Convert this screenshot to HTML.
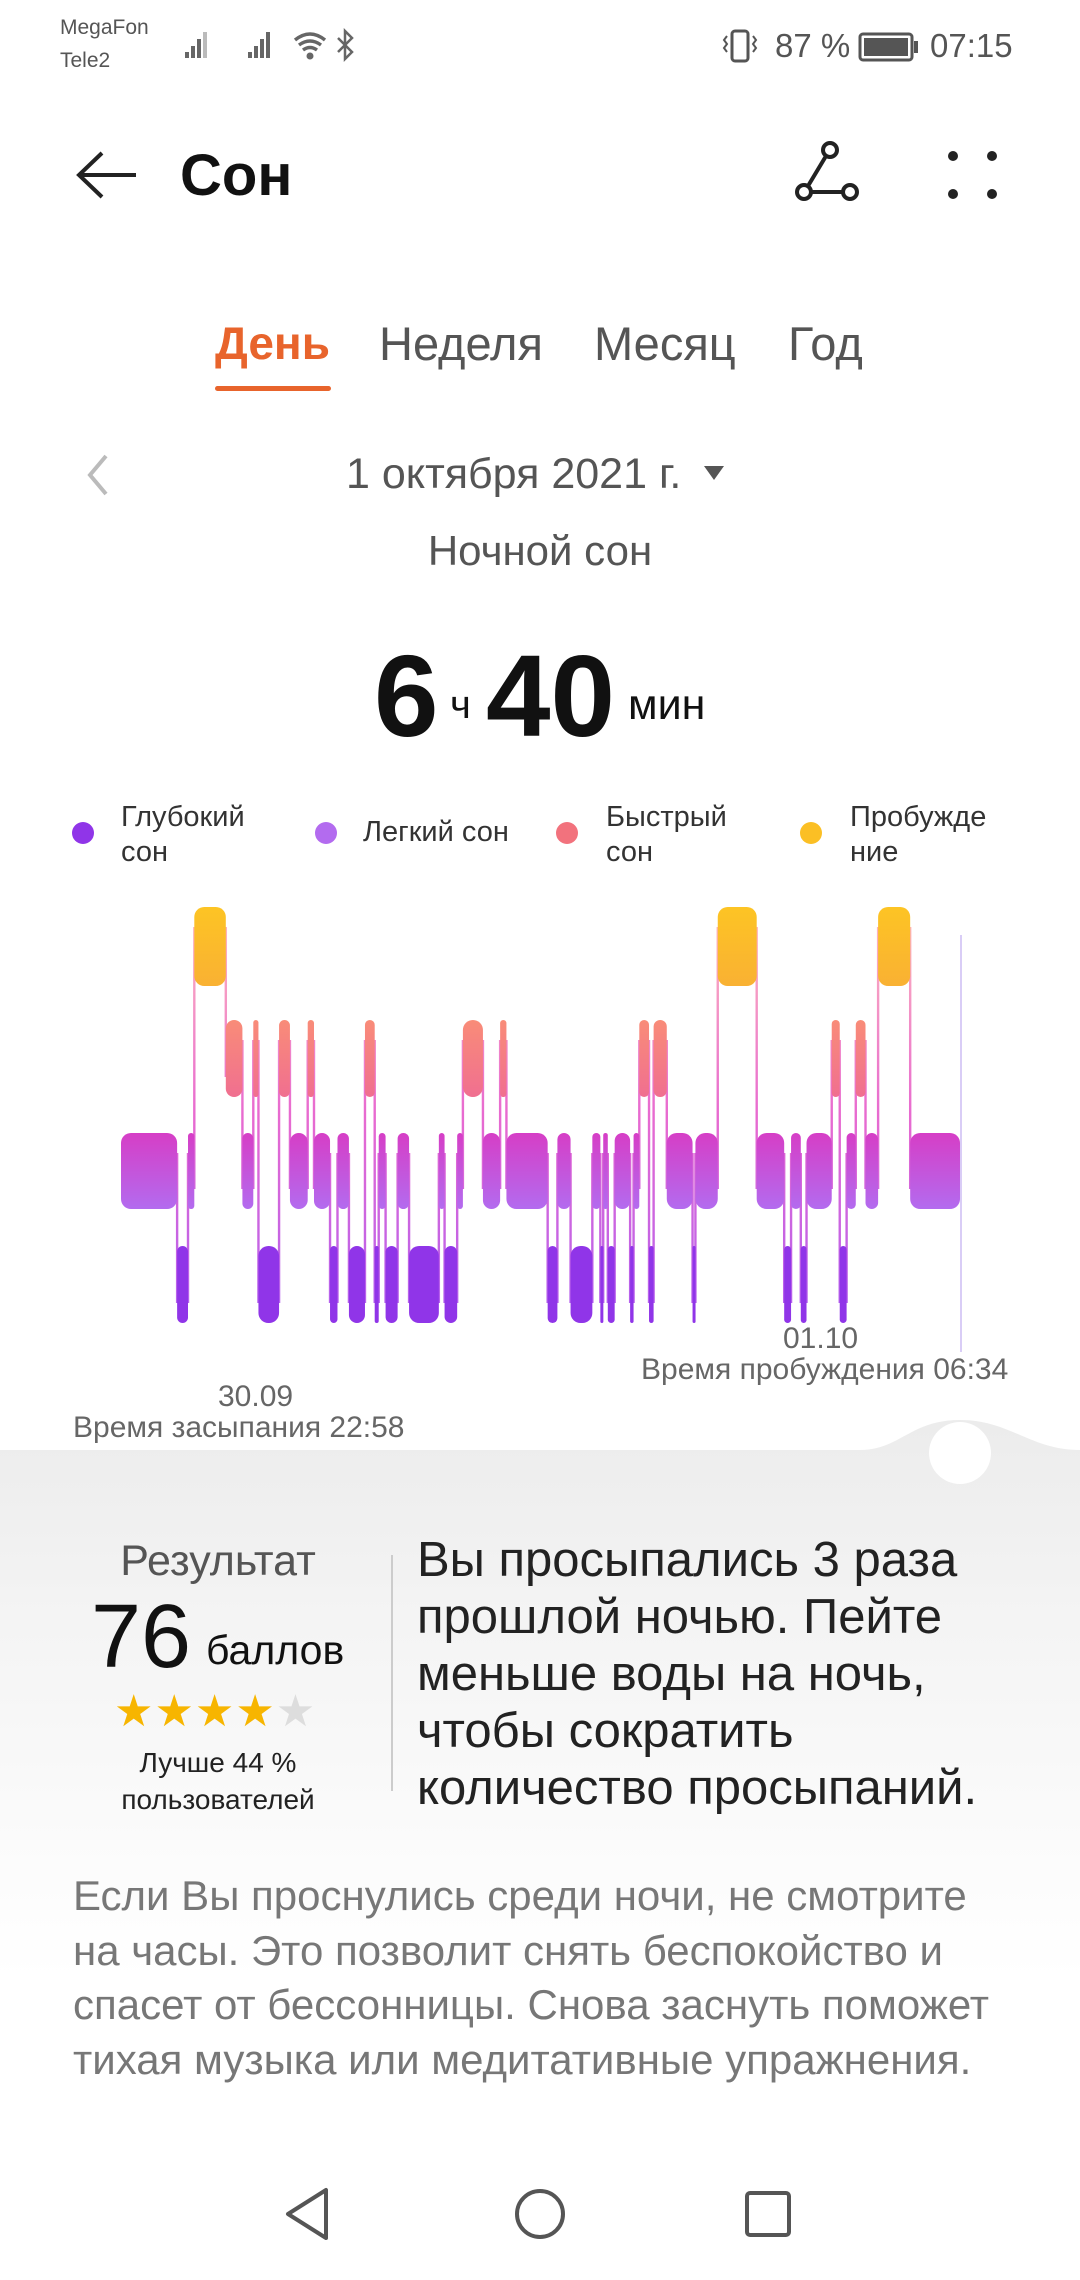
<!DOCTYPE html>
<html><head><meta charset="utf-8">
<style>
*{margin:0;padding:0;box-sizing:border-box}
body{width:1080px;height:2280px;position:relative;overflow:hidden;background:#fff;font-family:"Liberation Sans","DejaVu Sans",sans-serif;color:#222}
.t{position:absolute;white-space:nowrap}
</style></head><body>
<div style="position:absolute;left:0;top:1420px;width:1080px;height:860px;background:linear-gradient(#ececec 0px,#f4f4f4 200px,#fbfbfb 420px,#fff 560px)"></div>
<svg style="position:absolute;left:0;top:1380px" width="1080" height="120">
<path d="M0 70 L860 70 C900 70 910 40 960 40 C1010 40 1030 70 1080 70 L1080 0 L0 0 Z" fill="#fff"/>
<circle cx="960" cy="73" r="31" fill="#fff"/>
</svg>

<!-- status bar -->
<div class="t" style="left:60px;top:16px;font-size:21px;color:#555">MegaFon</div>
<div class="t" style="left:60px;top:49px;font-size:21px;color:#555">Tele2</div>
<svg style="position:absolute;left:180px;top:28px" width="200" height="36">
<g fill="#666"><rect x="5" y="24" width="4" height="6"/><rect x="11" y="18" width="4" height="12"/><rect x="17" y="11" width="4" height="19"/><rect x="23" y="4" width="4" height="26" fill="#bbb"/>
<rect x="68" y="24" width="4" height="6"/><rect x="74" y="18" width="4" height="12"/><rect x="80" y="11" width="4" height="19"/><rect x="86" y="4" width="4" height="26"/></g>
<path d="M115 12 Q130 0 145 12 M119 17 Q130 9 141 17 M123 22 Q130 17 137 22" stroke="#666" stroke-width="3.5" fill="none"/><circle cx="130" cy="28" r="3.5" fill="#666"/>
<path d="M158 10 L172 24 L165 31 L165 3 L172 10 L158 24" stroke="#666" stroke-width="2.5" fill="none"/>
</svg>
<svg style="position:absolute;left:722px;top:28px" width="40" height="36"><rect x="10" y="3" width="16" height="30" rx="3" stroke="#555" stroke-width="3" fill="none"/><path d="M5 8 l-3 4 l3 4 l-3 4 l3 4 M31 8 l3 4 l-3 4 l3 4 l-3 4" stroke="#555" stroke-width="2" fill="none"/></svg>
<div class="t" style="left:775px;top:27px;font-size:33px;color:#555">87 %</div>
<svg style="position:absolute;left:858px;top:32px" width="62" height="30"><rect x="2" y="2" width="52" height="26" rx="3" stroke="#555" stroke-width="3" fill="none"/><rect x="6" y="6" width="44" height="18" fill="#555"/><rect x="56" y="9" width="4" height="12" fill="#555"/></svg>
<div class="t" style="left:930px;top:27px;font-size:33px;color:#555">07:15</div>

<!-- header -->
<svg style="position:absolute;left:74px;top:150px" width="70" height="50"><path d="M62 25 L6 25 M28 3 L5 25 L28 47" stroke="#222" stroke-width="4" fill="none"/></svg>
<div class="t" style="left:180px;top:142px;font-size:58px;font-weight:bold;color:#111">Сон</div>
<svg style="position:absolute;left:792px;top:140px" width="72" height="66"><circle cx="38" cy="10" r="7" stroke="#222" stroke-width="4" fill="none"/><circle cx="12" cy="52" r="7" stroke="#222" stroke-width="4" fill="none"/><circle cx="58" cy="52" r="7" stroke="#222" stroke-width="4" fill="none"/><path d="M34 16 L16 46 M19 52 L51 52" stroke="#222" stroke-width="4"/></svg>
<svg style="position:absolute;left:945px;top:148px" width="56" height="56"><g fill="#222"><circle cx="8" cy="8" r="5"/><circle cx="47" cy="8" r="5"/><circle cx="8" cy="46" r="5"/><circle cx="47" cy="46" r="5"/></g></svg>

<!-- tabs -->
<div class="t" style="left:215px;top:316px;font-size:46px;color:#e8642c;font-weight:bold">День</div>
<div style="position:absolute;left:215px;top:386px;width:116px;height:5px;background:#e8642c;border-radius:3px"></div>
<div class="t" style="left:379px;top:316px;font-size:47px;color:#555">Неделя</div>
<div class="t" style="left:594px;top:316px;font-size:47px;color:#555">Месяц</div>
<div class="t" style="left:788px;top:316px;font-size:47px;color:#555">Год</div>

<svg style="position:absolute;left:84px;top:452px" width="30" height="46"><path d="M22 4 L6 23 L22 42" stroke="#bbb" stroke-width="4" fill="none"/></svg>
<div class="t" style="left:346px;top:450px;font-size:43px;color:#555">1 октября 2021 г.</div>
<svg style="position:absolute;left:702px;top:464px" width="24" height="18"><path d="M2 2 L22 2 L12 16Z" fill="#555"/></svg>
<div class="t" style="left:0;width:1080px;text-align:center;top:527px;font-size:42px;color:#555">Ночной сон</div>

<div class="t" style="left:374px;top:626px;font-size:116px;font-weight:bold;color:#111;line-height:140px">6</div>
<div class="t" style="left:450px;top:683px;font-size:40px;color:#111">ч</div>
<div class="t" style="left:486px;top:626px;font-size:116px;font-weight:bold;color:#111;line-height:140px">40</div>
<div class="t" style="left:628px;top:681px;font-size:43px;color:#111">мин</div>

<!-- legend -->
<svg style="position:absolute;left:0;top:810px" width="1080" height="50"><circle cx="83" cy="23" r="11" fill="#9035e8"/><circle cx="326" cy="23" r="11" fill="#b36bef"/><circle cx="567" cy="23" r="11" fill="#f2727d"/><circle cx="811" cy="23" r="11" fill="#fbbf24"/></svg>
<div class="t" style="left:121px;top:800px;font-size:29px;color:#333;line-height:35px">Глубокий<br>сон</div>
<div class="t" style="left:363px;top:816px;font-size:29px;color:#333">Легкий сон</div>
<div class="t" style="left:606px;top:800px;font-size:29px;color:#333;line-height:35px">Быстрый<br>сон</div>
<div class="t" style="left:850px;top:800px;font-size:29px;color:#333;line-height:35px">Пробужде<br>ние</div>

<svg id="ch" style="position:absolute;left:0;top:0" width="1080" height="1400">
<defs>
<linearGradient id="ga" x1="0" y1="0" x2="0" y2="1"><stop offset="0" stop-color="#fdc424"/><stop offset="1" stop-color="#f9b133"/></linearGradient>
<linearGradient id="gr" x1="0" y1="0" x2="0" y2="1"><stop offset="0" stop-color="#f98c78"/><stop offset="1" stop-color="#f06f90"/></linearGradient>
<linearGradient id="gl" x1="0" y1="0" x2="0" y2="1"><stop offset="0" stop-color="#d63ec6"/><stop offset="1" stop-color="#b36bef"/></linearGradient>
<linearGradient id="gc" gradientUnits="userSpaceOnUse" x1="0" y1="907" x2="0" y2="1323"><stop offset="0" stop-color="#fbb"/><stop offset="0.5" stop-color="#e86ad0"/><stop offset="1" stop-color="#b060f0"/></linearGradient>
</defs>
<line x1="961" y1="935" x2="961" y2="1352" stroke="#d9cdf6" stroke-width="2"/>
</svg>

<div class="t" style="left:783px;top:1322px;font-size:30px;color:#666">01.10</div>
<div class="t" style="left:641px;top:1353px;font-size:30px;color:#666">Время пробуждения 06:34</div>
<div class="t" style="left:218px;top:1380px;font-size:30px;color:#666">30.09</div>
<div class="t" style="left:73px;top:1411px;font-size:30px;color:#666">Время засыпания 22:58</div>

<!-- result -->
<div class="t" style="left:18px;width:400px;text-align:center;top:1537px;font-size:43px;color:#555">Результат</div>
<div class="t" style="left:91px;top:1586px;font-size:90px;color:#111">76</div>
<div class="t" style="left:206px;top:1627px;font-size:41px;color:#111">баллов</div>
<div class="t" style="left:114px;top:1686px;font-size:44px;letter-spacing:1px;color:#f7b500">★★★★<span style="color:#ddd">★</span></div>
<div class="t" style="left:18px;width:400px;text-align:center;top:1744px;font-size:28px;color:#222;line-height:37px">Лучше 44 %<br>пользователей</div>
<div style="position:absolute;left:391px;top:1555px;width:2px;height:236px;background:#ccc"></div>
<div class="t" style="left:417px;top:1532px;font-size:49px;color:#222;line-height:57px">Вы просыпались 3 раза<br>прошлой ночью. Пейте<br>меньше воды на ночь,<br>чтобы сократить<br>количество просыпаний.</div>
<div class="t" style="left:73px;top:1869px;font-size:42px;color:#777;line-height:54.5px">Если Вы проснулись среди ночи, не смотрите<br>на часы. Это позволит снять беспокойство и<br>спасет от бессонницы. Снова заснуть поможет<br>тихая музыка или медитативные упражнения.</div>

<!-- nav -->
<svg style="position:absolute;left:0;top:2180px" width="1080" height="70">
<path d="M326 10 L326 58 L288 34 Z" stroke="#555" stroke-width="4" fill="none" stroke-linejoin="round"/>
<circle cx="540" cy="34" r="23" stroke="#555" stroke-width="4" fill="none"/>
<rect x="747" y="13" width="42" height="42" rx="3" stroke="#555" stroke-width="4" fill="none"/>
</svg>

<script>
(function(){
var L={A:[907,986,'url(#ga)'],R:[1020,1097,'url(#gr)'],L:[1133,1209,'url(#gl)'],D:[1246,1323,'#9035e8']};
var s=[['L',35,133],['D',133,152],['L',152,163],['A',163,218],['R',218,247],['L',247,266],['R',266,275],['D',275,311],['R',311,330],['L',330,361],['R',361,372],['L',372,400],['D',400,413],['L',413,433],['D',433,461],['R',461,478],['D',478,485],['L',485,497],['D',497,518],['L',518,538],['D',538,590],['L',590,600],['D',600,622],['L',622,632],['R',632,667],['L',667,697],['R',697,708],['L',708,780],['D',780,797],['L',797,820],['D',820,858],['L',858,872],['D',872,877],['L',877,885],['D',885,897],['L',897,924],['D',924,930],['L',930,940],['R',940,957],['D',957,965],['R',965,988],['L',988,1033],['D',1033,1038],['L',1038,1077],['A',1077,1145],['L',1145,1193],['D',1193,1205],['L',1205,1222],['D',1222,1232],['L',1232,1276],['R',1276,1290],['D',1290,1302],['L',1302,1318],['R',1318,1335],['L',1335,1357],['A',1357,1413],['L',1413,1500]];
function X(z){return 121+(z-35)*0.5727;}
var svg=document.getElementById('ch'),h='';
for(var i=1;i<s.length;i++){var a=L[s[i-1][0]],b=L[s[i][0]],x=X(s[i][1]);
var y1=Math.min(a[0],b[0])+20,y2=Math.max(a[1],b[1])-20;
h+='<rect x="'+(x-1.2)+'" y="'+y1+'" width="2.4" height="'+(y2-y1)+'" fill="url(#gc)"/>';}
for(var i=0;i<s.length;i++){var l=L[s[i][0]],x1=X(s[i][1]),x2=X(s[i][2]),w=Math.max(x2-x1,3);
var r=Math.min(10,w/2);
h+='<rect x="'+x1+'" y="'+l[0]+'" width="'+w+'" height="'+(l[1]-l[0])+'" rx="'+r+'" fill="'+l[2]+'"/>';}
svg.insertAdjacentHTML('beforeend',h);
})();
</script>
</body></html>
